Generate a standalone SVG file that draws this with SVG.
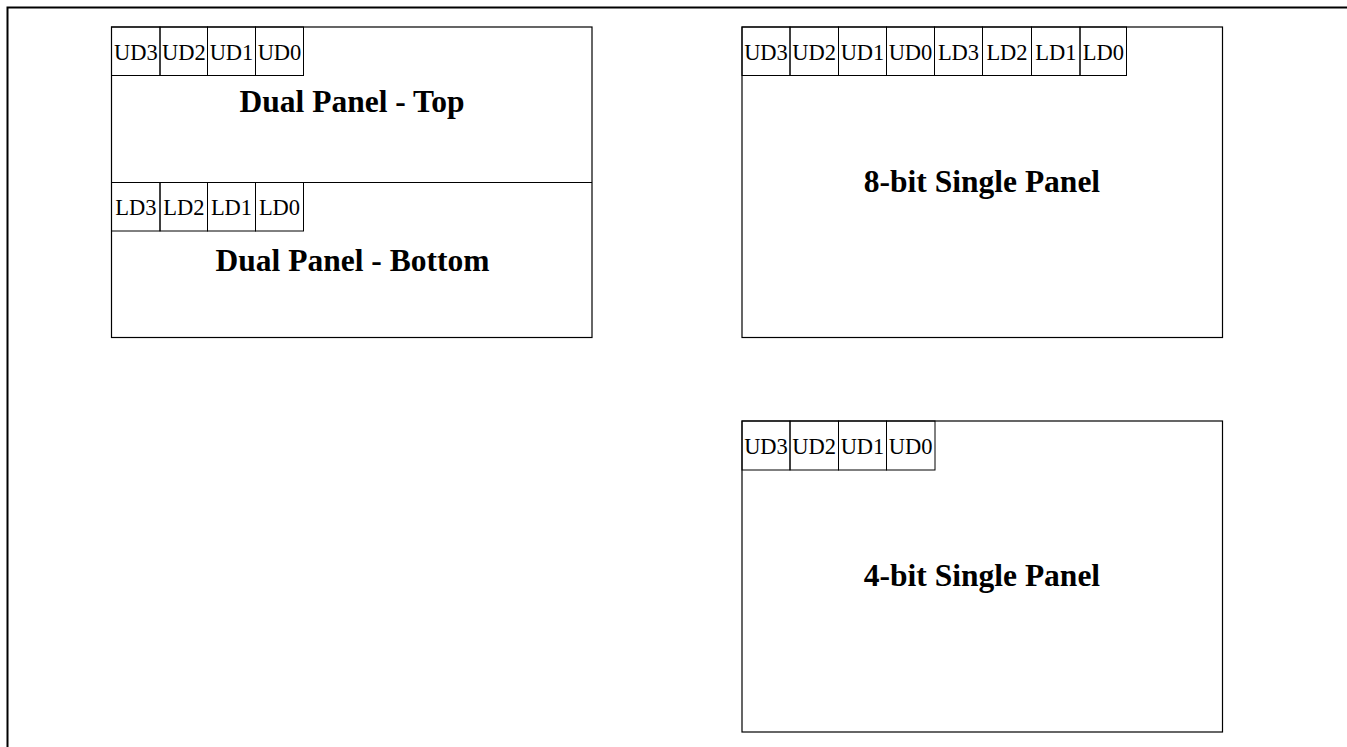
<svg xmlns="http://www.w3.org/2000/svg" width="1347" height="747" viewBox="0 0 1347 747">
<style>
.box{fill:#fff;stroke:#000;stroke-width:1.2}
.cell{fill:none;stroke:#000;stroke-width:1}
.c{font-family:"Liberation Serif","Times New Roman",serif;font-size:22.5px;text-anchor:middle;fill:#000}
.t{font-family:"Liberation Serif","Times New Roman",serif;font-size:31.5px;font-weight:bold;text-anchor:middle;fill:#000}
</style>
<rect width="1347" height="747" fill="#fff"/>
<path d="M7.5 747 V7.5 H1347" fill="none" stroke="#000" stroke-width="2"/>
<g id="dual-panel">
<rect class="box" x="111.5" y="27" width="480.5" height="310.5"/>
<line x1="111.5" y1="182.5" x2="592" y2="182.5" stroke="#000" stroke-width="1.2"/>
<g id="dual-top-cells">
<rect class="cell" x="111.5" y="27" width="48.5" height="48.5"/>
<rect class="cell" x="160" y="27" width="47.5" height="48.5"/>
<rect class="cell" x="207.5" y="27" width="48" height="48.5"/>
<rect class="cell" x="255.5" y="27" width="48" height="48.5"/>
<text class="c" x="135.8" y="59.5">UD3</text>
<text class="c" x="183.8" y="59.5">UD2</text>
<text class="c" x="231.5" y="59.5">UD1</text>
<text class="c" x="279.5" y="59.5">UD0</text>
</g>
<g id="dual-bottom-cells">
<rect class="cell" x="111.5" y="182.5" width="48.5" height="48.5"/>
<rect class="cell" x="160" y="182.5" width="47.5" height="48.5"/>
<rect class="cell" x="207.5" y="182.5" width="48" height="48.5"/>
<rect class="cell" x="255.5" y="182.5" width="48" height="48.5"/>
<text class="c" x="135.8" y="215">LD3</text>
<text class="c" x="183.8" y="215">LD2</text>
<text class="c" x="231.5" y="215">LD1</text>
<text class="c" x="279.5" y="215">LD0</text>
</g>
<text class="t" x="352" y="112">Dual Panel - Top</text>
<text class="t" x="352.5" y="271">Dual Panel - Bottom</text>
</g>
<g id="eight-bit-panel">
<rect class="box" x="742" y="27" width="480.5" height="310.5"/>
<rect class="cell" x="742" y="27" width="48" height="48.5"/>
<rect class="cell" x="790" y="27" width="48.5" height="48.5"/>
<rect class="cell" x="838.5" y="27" width="48" height="48.5"/>
<rect class="cell" x="886.5" y="27" width="48" height="48.5"/>
<rect class="cell" x="934.5" y="27" width="48" height="48.5"/>
<rect class="cell" x="982.5" y="27" width="49" height="48.5"/>
<rect class="cell" x="1031.5" y="27" width="48.5" height="48.5"/>
<rect class="cell" x="1080" y="27" width="46.5" height="48.5"/>
<text class="c" x="766" y="59.5">UD3</text>
<text class="c" x="814.2" y="59.5">UD2</text>
<text class="c" x="862.5" y="59.5">UD1</text>
<text class="c" x="910.5" y="59.5">UD0</text>
<text class="c" x="958.5" y="59.5">LD3</text>
<text class="c" x="1007" y="59.5">LD2</text>
<text class="c" x="1055.8" y="59.5">LD1</text>
<text class="c" x="1103.3" y="59.5">LD0</text>
<text class="t" x="982" y="192">8-bit Single Panel</text>
</g>
<g id="four-bit-panel">
<rect class="box" x="742" y="421" width="480.5" height="311"/>
<rect class="cell" x="742" y="421" width="48" height="49"/>
<rect class="cell" x="790" y="421" width="48.5" height="49"/>
<rect class="cell" x="838.5" y="421" width="48" height="49"/>
<rect class="cell" x="886.5" y="421" width="48.5" height="49"/>
<text class="c" x="766" y="453.5">UD3</text>
<text class="c" x="814.2" y="453.5">UD2</text>
<text class="c" x="862.5" y="453.5">UD1</text>
<text class="c" x="910.7" y="453.5">UD0</text>
<text class="t" x="982" y="586">4-bit Single Panel</text>
</g>
<g id="connectors"/>
</svg>
